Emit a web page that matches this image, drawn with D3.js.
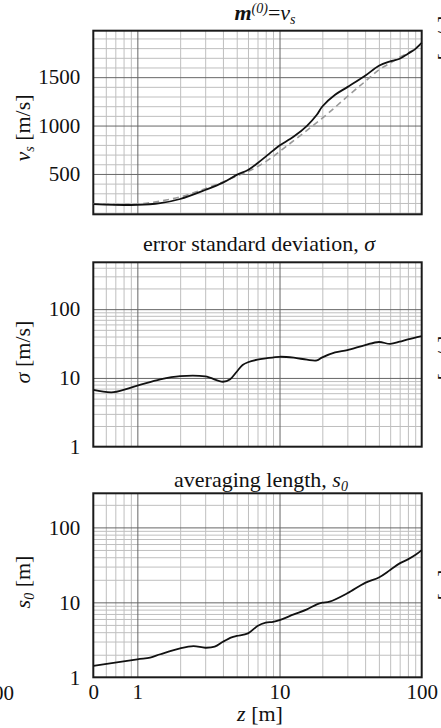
<!DOCTYPE html>
<html>
<head>
<meta charset="utf-8">
<script src="https://cdn.jsdelivr.net/npm/d3@7"></script>
<style>
  body { margin: 0; background: #fff; }
  text { font-family: "Liberation Serif", "Times New Roman", serif; fill: #111; }
</style>
</head>
<body>
<script>
// depth values (first point is the left edge, labelled "0")
const zVs = [0.49, 1, 1.45, 2, 3, 4, 5, 6, 7, 8, 9, 10, 12.6, 15.6, 18.3, 20, 24.6, 30, 40, 50, 60, 70, 80, 90, 100];
const vsInv = [189, 180, 198, 241, 334, 410, 490, 541, 611, 679, 741, 793, 886, 997, 1111, 1197, 1318, 1397, 1514, 1618, 1663, 1690, 1742, 1790, 1853];

const zRef = [0.49, 1, 2, 3, 4, 5, 6, 7, 8, 9, 10, 20, 30, 40, 50, 60, 70, 80, 90, 100];
const vsRef = [192, 189, 262, 348, 418, 478, 524, 576, 628, 679, 731, 1076, 1300, 1455, 1576, 1645, 1707, 1749, 1793, 1853];

const zSig = [0.49, 0.68, 1, 1.45, 2, 3, 4, 4.5, 5, 5.5, 6, 7, 8, 10, 12.6, 15.6, 18.3, 20, 24.6, 30, 40, 50, 60, 70, 80, 100];
const sigma = [6.7, 6.2, 7.7, 9.5, 10.6, 10.5, 8.8, 9.6, 12.3, 15.4, 16.9, 18.4, 19.2, 20.3, 19.7, 18.4, 18, 19.9, 23.5, 25.4, 30, 33.3, 31.2, 33.6, 36.4, 40.6];

const zS0 = [0.49, 1, 1.23, 1.45, 2, 2.48, 3, 3.5, 4, 4.6, 5, 6, 7, 8, 9, 10, 12.6, 15.6, 18.3, 20, 22.5, 30, 40, 50, 60, 70, 80, 90, 100];
const s0 = [1.42, 1.74, 1.83, 2.03, 2.44, 2.61, 2.48, 2.56, 2.98, 3.41, 3.56, 3.86, 4.83, 5.35, 5.5, 5.8, 6.9, 8.07, 9.4, 9.9, 10.2, 13.2, 18.2, 21.5, 27, 33.1, 37.4, 42.7, 49.8];

// ticks / grid
const xTicks = [0.49, 1, 10, 100];
const xTickLabels = ["0", "1", "10", "100"];
const xMajor = [1, 10];
const xMinor = [0.6, 0.7, 0.8, 0.9, 2, 3, 4, 5, 6, 7, 8, 9, 20, 30, 40, 50, 60, 70, 80, 90];
const vsTicks = [500, 1000, 1500];
const vsMinor = [100, 200, 300, 400, 600, 700, 800, 900, 1100, 1200, 1300, 1400, 1600, 1700, 1800, 1900];
const logTicks = [1, 10, 100];
const logMinor = [2, 3, 4, 5, 6, 7, 8, 9, 20, 30, 40, 50, 60, 70, 80, 90, 200, 300, 400];

const W = 441, H = 728;
const left = 93.3, right = 421.7;
const FS = 21, TFS = 22, SUB = 14;

const svg = d3.select("body").append("svg")
  .attr("width", W).attr("height", H);
svg.append("rect").attr("width", W).attr("height", H).attr("fill", "#fff");

const x = d3.scaleLog().domain([0.49, 100]).range([left, right]);

const panels = [
  { top: 30.7, bottom: 214.3, y: d3.scaleLinear().domain([83, 1980]),
    ticks: vsTicks, minor: vsMinor, labelY: 128 },
  { top: 262.3, bottom: 446.7, y: d3.scaleLog().domain([1, 480]),
    ticks: logTicks, minor: logMinor, labelY: 352 },
  { top: 493.3, bottom: 677.3, y: d3.scaleLog().domain([1, 285]),
    ticks: logTicks, minor: logMinor, labelY: 582 }
];

panels.forEach((p, i) => {
  p.y.range([p.bottom, p.top]);
  const g = svg.append("g");
  const h = p.bottom - p.top;
  const minorY = p.minor.filter(v => v >= p.y.domain()[0] && v <= p.y.domain()[1]);

  // minor grid
  g.append("g").attr("transform", `translate(0,${p.bottom})`)
    .call(d3.axisBottom(x).tickValues(xMinor).tickSize(-h).tickFormat(""))
    .call(a => a.select(".domain").remove())
    .call(a => a.selectAll("line").attr("stroke", "#bfbfbf").attr("stroke-width", 1));
  g.append("g").attr("transform", `translate(${left},0)`)
    .call(d3.axisLeft(p.y).tickValues(minorY).tickSize(-(right - left)).tickFormat(""))
    .call(a => a.select(".domain").remove())
    .call(a => a.selectAll("line").attr("stroke", "#bfbfbf").attr("stroke-width", 1));

  // major grid
  g.append("g").attr("transform", `translate(0,${p.bottom})`)
    .call(d3.axisBottom(x).tickValues(xMajor).tickSize(-h).tickFormat(""))
    .call(a => a.select(".domain").remove())
    .call(a => a.selectAll("line").attr("stroke", "#666").attr("stroke-width", 1));
  g.append("g").attr("transform", `translate(${left},0)`)
    .call(d3.axisLeft(p.y).tickValues(p.ticks.filter(v => v > p.y.domain()[0])).tickSize(-(right - left)).tickFormat(""))
    .call(a => a.select(".domain").remove())
    .call(a => a.selectAll("line").attr("stroke", "#666").attr("stroke-width", 1));

  // y tick labels
  g.append("g").attr("transform", `translate(${left},0)`)
    .call(d3.axisLeft(p.y).tickValues(p.ticks).tickSize(0).tickPadding(13).tickFormat(d3.format("d")))
    .call(a => a.select(".domain").remove())
    .call(a => a.selectAll("text").attr("font-size", FS).attr("font-family", "Liberation Serif").attr("fill", "#111"));

  // frame
  g.append("rect")
    .attr("x", left).attr("y", p.top)
    .attr("width", right - left).attr("height", h)
    .attr("fill", "none").attr("stroke", "#1a1a1a").attr("stroke-width", 2);
  p.g = g;
});

const line = (y) => d3.line().x(d => x(d[0])).y(d => y(d[1])).curve(d3.curveCatmullRom);

// panel 1
const p1 = panels[0];
p1.g.append("path").datum(d3.zip(zRef, vsRef))
  .attr("d", line(p1.y)).attr("fill", "none")
  .attr("stroke", "#999").attr("stroke-width", 1.6).attr("stroke-dasharray", "6,4");
p1.g.append("path").datum(d3.zip(zVs, vsInv))
  .attr("d", line(p1.y)).attr("fill", "none")
  .attr("stroke", "#111").attr("stroke-width", 1.8);

// panel 2
const p2 = panels[1];
p2.g.append("path").datum(d3.zip(zSig, sigma))
  .attr("d", line(p2.y)).attr("fill", "none")
  .attr("stroke", "#111").attr("stroke-width", 1.8);

// panel 3
const p3 = panels[2];
p3.g.append("path").datum(d3.zip(zS0, s0))
  .attr("d", line(p3.y)).attr("fill", "none")
  .attr("stroke", "#111").attr("stroke-width", 1.8);

// x tick labels on bottom panel
svg.append("g").attr("transform", `translate(0,${p3.bottom})`)
  .call(d3.axisBottom(x).tickValues(xTicks).tickSize(0).tickPadding(7)
    .tickFormat((d, i) => xTickLabels[i]))
  .call(a => a.select(".domain").remove())
  .call(a => a.selectAll("text").attr("font-size", FS).attr("font-family", "Liberation Serif").attr("fill", "#111"));

// x axis title
const xt = svg.append("text").attr("x", 260).attr("y", 721)
  .attr("text-anchor", "middle").attr("font-size", TFS);
xt.append("tspan").attr("font-style", "italic").text("z");
xt.append("tspan").text(" [m]");

// titles
const t1 = svg.append("text").attr("x", 265).attr("y", 20)
  .attr("text-anchor", "middle").attr("font-size", TFS);
t1.append("tspan").attr("font-style", "italic").attr("font-weight", "bold").text("m");
t1.append("tspan").attr("font-style", "italic").attr("font-size", SUB).attr("dy", -7).text("(0)");
t1.append("tspan").attr("dy", 7).text("=");
t1.append("tspan").attr("font-style", "italic").text("v");
t1.append("tspan").attr("font-style", "italic").attr("font-size", SUB).attr("dy", 4).text("s");

const t2 = svg.append("text").attr("x", 259).attr("y", 251)
  .attr("text-anchor", "middle").attr("font-size", TFS);
t2.append("tspan").text("error standard deviation, ");
t2.append("tspan").attr("font-style", "italic").text("σ");

const t3 = svg.append("text").attr("x", 261).attr("y", 487)
  .attr("text-anchor", "middle").attr("font-size", TFS);
t3.append("tspan").text("averaging length, ");
t3.append("tspan").attr("font-style", "italic").text("s");
t3.append("tspan").attr("font-style", "italic").attr("font-size", SUB).attr("dy", 4).text("0");

// y axis titles
const ya = svg.append("text").attr("transform", `translate(30,${p1.labelY}) rotate(-90)`)
  .attr("text-anchor", "middle").attr("font-size", TFS);
ya.append("tspan").attr("font-style", "italic").text("v");
ya.append("tspan").attr("font-style", "italic").attr("font-size", SUB).attr("dy", 4).text("s");
ya.append("tspan").attr("dy", -4).text(" [m/s]");

const yb = svg.append("text").attr("transform", `translate(30,${p2.labelY}) rotate(-90)`)
  .attr("text-anchor", "middle").attr("font-size", TFS);
yb.append("tspan").attr("font-style", "italic").text("σ");
yb.append("tspan").text(" [m/s]");

const yc = svg.append("text").attr("transform", `translate(30,${p3.labelY}) rotate(-90)`)
  .attr("text-anchor", "middle").attr("font-size", TFS);
yc.append("tspan").attr("font-style", "italic").text("s");
yc.append("tspan").attr("font-style", "italic").attr("font-size", SUB).attr("dy", 4).text("0");
yc.append("tspan").attr("dy", -4).text(" [m]");

// cut-off pieces of neighbouring figures (as in the source image)
svg.append("text").attr("x", 14).attr("y", 700).attr("text-anchor", "end")
  .attr("font-size", FS).text("100");
[[38, "[m/s]"], [358, "[m/s]"], [585, "[m]"]].forEach(([cy, s]) => {
  svg.append("text").attr("transform", `translate(452,${cy}) rotate(-90)`)
    .attr("text-anchor", "middle").attr("font-size", FS).text(s);
});
</script>
</body>
</html>
